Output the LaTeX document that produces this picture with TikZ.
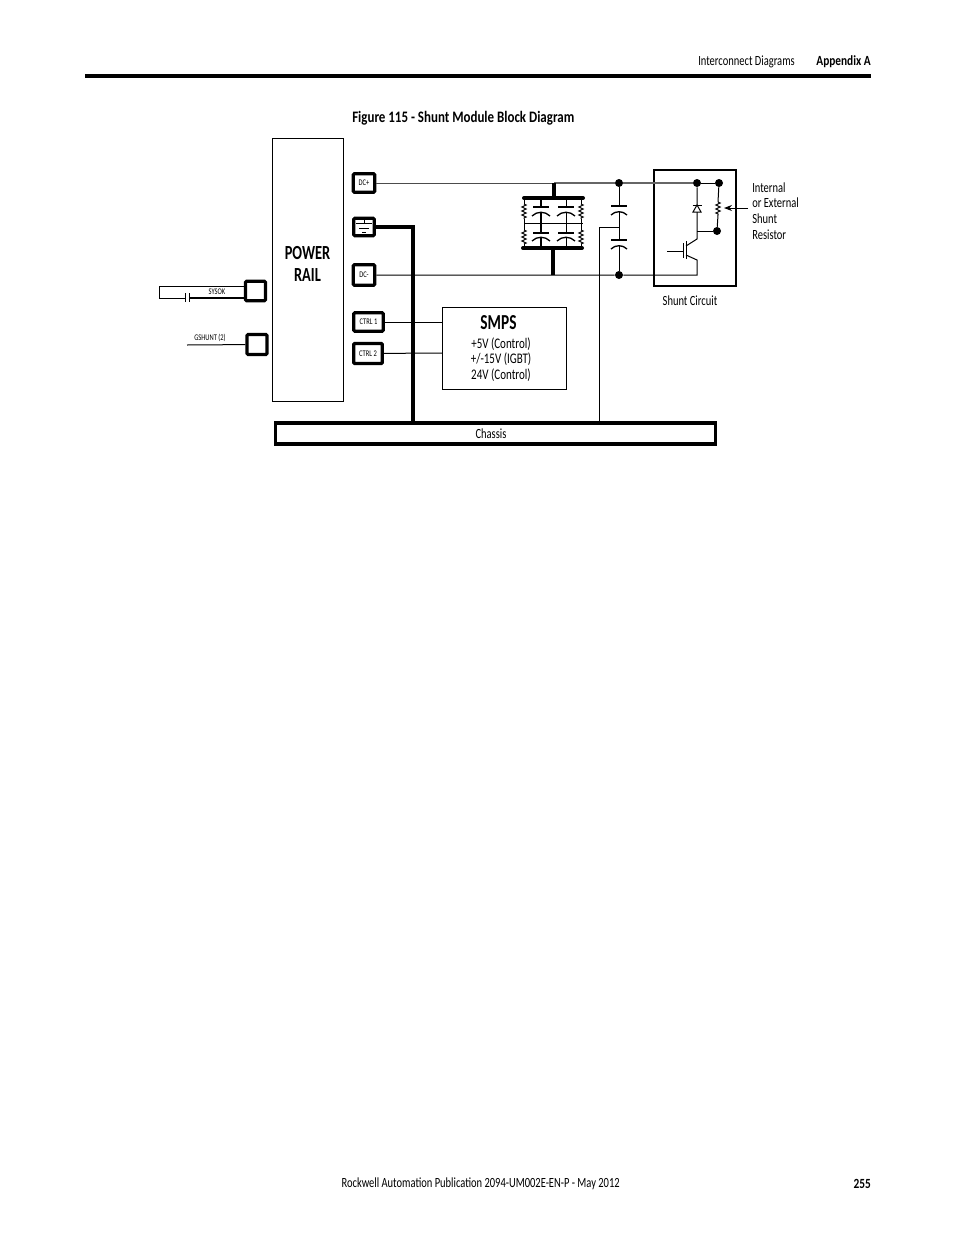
\documentclass[tikz,border=0pt]{standalone}
\usepackage{fontspec}
\setmainfont[FakeStretch=0.75,BoldFeatures={FakeStretch=0.81}]{Carlito}
\newfontfamily\blockfont[FakeStretch=0.72,BoldFeatures={FakeStretch=0.72}]{Carlito}
\usetikzlibrary{arrows.meta,decorations.pathmorphing}
\tikzset{
  terminal/.style={draw,line width=2.4pt,rounded corners=0.8pt,inner sep=0pt,font=\fontsize{6.5}{7}\selectfont},
  txt/.style={inner sep=0pt,font=\fontsize{10.5}{12}\selectfont},
  dot/.style={circle,fill,inner sep=0pt,minimum size=6pt},
  thin wire/.style={line width=0.75pt},
  bus/.style={line width=2.4pt},
  resistor/.style={thin wire,decorate,decoration={zigzag,segment length=3pt,amplitude=1.6pt}}
}
\begin{document}
\begin{tikzpicture}[x=0.75pt,y=-0.75pt]
    \useasboundingbox (0,0) rectangle (954,1235);

    % Page furniture
    \draw[line width=2.4pt] (85,76) -- (871,76);
    \node[txt,anchor=east] (hdr) at (795,61.5) {Interconnect Diagrams};
    \node[txt,anchor=east,font=\fontsize{10.5}{12}\bfseries] (app) at (871,61.5) {Appendix A};
    \node[txt,anchor=west,font=\fontsize{12}{14}\bfseries] (fig) at (352,118) {Figure 115 - Shunt Module Block Diagram};
    \node[txt,anchor=east] (pub) at (620,1184) {Rockwell Automation Publication 2094-UM002E-EN-P - May 2012};
    \node[txt,anchor=east,font=\fontsize{10.5}{12}\bfseries] (pg) at (871,1184) {255};

    % Blocks
    \node[draw,thin wire,minimum width=53.25pt,minimum height=197.25pt,inner sep=0pt] (rail) at (307.5,269.5) {};
    \node[txt,font=\blockfont\fontsize{15}{16.5}\bfseries,align=center] (railtxt) at (307.5,264) {POWER\\RAIL};
    \node[draw,thin wire,minimum width=93pt,minimum height=61.5pt,inner sep=0pt] (smps) at (504,348) {};
    \node[txt,font=\blockfont\fontsize{16}{17}\bfseries] (smpstxt) at (498.5,323) {SMPS};
    \node[txt,align=center,font=\fontsize{11}{11.7}\selectfont] (smpsv) at (501,359.5) {+5V (Control)\\+/-15V (IGBT)\\24V (Control)};
    \node[draw,bus,minimum width=330pt,minimum height=15.75pt,inner sep=0pt] (chassis) at (495.5,433.5) {};
    \node[txt] (chassistxt) at (491,433.5) {Chassis};
    \node[draw,line width=1pt,minimum width=61.5pt,minimum height=87pt,inner sep=0pt] (shunt) at (695,228) {};
    \node[txt] (shunttxt) at (690,300.5) {Shunt Circuit};
    \node[txt,anchor=west,align=left,font=\fontsize{10.5}{11.8}\selectfont] (restxt) at (752,211) {Internal\\or External\\Shunt\\Resistor};

    % Terminals
    \foreach \name/\x/\y/\w/\h/\lab in {dcp/364/183/16/14/DC+,gnd/364/227/15.5/13/,dcm/364/275/16/15.5/DC-,
        ctrla/368.5/322/22/14/CTRL 1,ctrlb/368/353.5/21.5/15/CTRL 2,sysok/255.5/291/15/14.5/,gshunt/257/344.5/15/15/} {
      \node[terminal,minimum width=\w pt,minimum height=\h pt] (\name) at (\x,\y) {\lab};
    }
    \node[txt,font=\fontsize{6.5}{7}\selectfont] (sysoktxt) at (217,292) {SYSOK};
    \node[txt,font=\fontsize{6.5}{7}\selectfont] (gshunttxt) at (210,338) {GSHUNT (2)};

    % Ground symbol
    \draw[thin wire] (364,218) -- (364,223) (356,223) -- (372,223) (359,228) -- (369,228) (362,232) -- (366,232);

    % Junctions
    \foreach \name/\x/\y in {capt/619/183,shp/697/183,rest/719/183,capb/619/275,resb/717/231} {
      \node[dot] (\name) at (\x,\y) {};
    }

    % Power wiring
    \draw[thin wire,black!70] (dcp) -- (554,183);
    \draw[line width=1.2pt,black!60] (554,183) -- (capt) -- (shp);
    \draw[thin wire] (shp) -- (rest);
    \draw[thin wire] (dcm) -- (capb) -- (697,275) -- (697,260) -- (686,255);
    \draw[bus] (gnd) -- (413,227) -- (413,423);
    \draw[thin wire] (ctrla) -- (442,322);
    \draw[thin wire] (ctrlb) -- (442,353);

    % Capacitor bank
    \draw[line width=3pt,line cap=round] (524,198) -- (583,198);
    \draw[line width=3pt,line cap=round] (523,248) -- (582,248);
    \draw[line width=2.4pt] (554,183) -- (554,198);
    \draw[line width=2.4pt] (553,248) -- (553,275);
    \draw[thin wire] (524,223) -- (583,223);
    \foreach \x in {524,581} {
      \draw[thin wire] (\x,198) -- (\x,204) (\x,219) -- (\x,230) (\x,244) -- (\x,248);
      \draw[resistor] (\x,204) -- (\x,219);
      \draw[resistor] (\x,230) -- (\x,244);
    }
    \foreach \x/\wd in {541/1.8pt,566/0.75pt} {
      \draw[line width=\wd] (\x,198) -- (\x,207) (\x,213) -- (\x,233) (\x,238) -- (\x,248);
      \foreach \y/\c in {207/213,233/238} {
        \draw[line width=1pt] (\x-8,\y) -- (\x+8,\y);
        \draw[line width=1pt] (\x-9,\c+3) to[bend left=45] (\x+9,\c+3);
      }
    }

    % Film capacitors and chassis tap
    \draw[thin wire] (capt) -- (619,206) (619,212) -- (619,240) (619,245) -- (capb);
    \foreach \y in {206,240} {
      \draw[line width=1pt] (611,\y) -- (627,\y);
      \draw[line width=1pt] (611,\y+9) to[bend left=45] (627,\y+9);
    }
    \draw[thin wire] (619,227) -- (599,227) -- (599,423);

    % Shunt circuit
    \draw[thin wire] (shp) -- (697,205) (697,212) -- (697,239) -- (686,246);
    \draw[thin wire] (692.5,205) -- (701.5,205);
    \draw[thin wire] (697,205) -- (701,212) -- (693,212) -- cycle;
    \draw[thin wire] (697,231) -- (resb);
    \draw[thin wire] (rest) -- (718,202) (718,215) -- (resb);
    \draw[resistor] (718,202) -- (718,215);
    \draw[thin wire] (686,241) -- (686,259);
    \draw[thin wire] (683,243) -- (683,258);
    \draw[thin wire] (667,251) -- (683,251);
    \draw[thin wire,-{Stealth[length=6pt,width=4.5pt]}] (748,208) -- (724,208);

    % SYSOK and GSHUNT wiring
    \draw[thin wire] (sysok.west|-0,286) -- (159,286) -- (159,298) -- (185,298);
    \draw[thin wire] (185,293) -- (185,302);
    \draw[thin wire] (189,293) -- (189,302);
    \draw[line width=1pt] (189,298) -- (sysok.west|-0,298);
    \draw[thin wire] (gshunt) -- (187,345);
\end{tikzpicture}
\end{document}
